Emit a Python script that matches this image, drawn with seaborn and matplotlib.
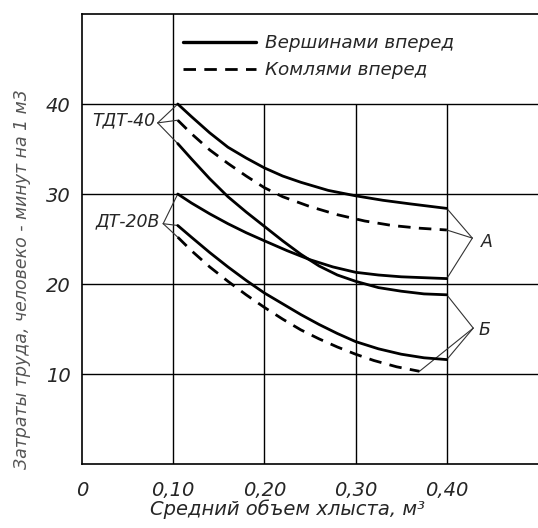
import numpy as np
import pandas as pd
import matplotlib
matplotlib.use('Agg')
import matplotlib.pyplot as plt
from matplotlib.lines import Line2D
import seaborn as sns

# ДАННЫЕ
# ТДТ-40
x1 = [0.105, 0.12, 0.14, 0.16, 0.18, 0.20, 0.22, 0.24, 0.27, 0.30, 0.33, 0.36, 0.40]
y1 = [40.0, 38.6, 36.8, 35.2, 34.0, 32.9, 32.0, 31.3, 30.4, 29.8, 29.3, 28.9, 28.4]   # вершинами, А
x2 = [0.105, 0.12, 0.14, 0.16, 0.18, 0.20, 0.22, 0.25, 0.28, 0.31, 0.34, 0.37, 0.40]
y2 = [38.2, 36.7, 34.9, 33.4, 32.0, 30.7, 29.7, 28.6, 27.7, 27.0, 26.5, 26.2, 26.0]   # комлями, А
x3 = [0.105, 0.12, 0.14, 0.16, 0.18, 0.20, 0.22, 0.24, 0.26, 0.28, 0.30, 0.325, 0.35, 0.375, 0.40]
y3 = [35.6, 33.9, 31.7, 29.7, 28.0, 26.4, 24.8, 23.3, 22.0, 21.0, 20.3, 19.6, 19.2, 18.9, 18.8]  # вершинами, Б
# ДТ-20В
x4 = [0.105, 0.12, 0.14, 0.16, 0.18, 0.20, 0.225, 0.25, 0.275, 0.30, 0.325, 0.35, 0.375, 0.40]
y4 = [30.0, 29.0, 27.8, 26.7, 25.7, 24.8, 23.7, 22.7, 21.9, 21.3, 21.0, 20.8, 20.7, 20.6]   # вершинами, А
x5 = [0.105, 0.12, 0.14, 0.16, 0.18, 0.20, 0.22, 0.24, 0.26, 0.28, 0.30, 0.325, 0.35, 0.375, 0.40]
y5 = [26.5, 25.2, 23.5, 21.9, 20.4, 19.0, 17.8, 16.6, 15.5, 14.5, 13.6, 12.8, 12.2, 11.8, 11.6]   # вершинами, Б
x6 = [0.105, 0.12, 0.14, 0.16, 0.18, 0.20, 0.22, 0.24, 0.26, 0.28, 0.30, 0.32, 0.345, 0.37]
y6 = [25.2, 23.7, 21.9, 20.3, 18.8, 17.4, 16.1, 14.9, 13.9, 13.0, 12.2, 11.5, 10.8, 10.3]   # комлями, Б

x_ticks = [0, 0.10, 0.20, 0.30, 0.40]
x_labels = ['0', '0,10', '0,20', '0,30', '0,40']
y_ticks = [10, 20, 30, 40]
y_labels = ['10', '20', '30', '40']

sns.set_style('white')
plt.rcParams['font.family'] = ['DejaVu Sans']
plt.rcParams['font.style'] = 'italic'

fig = plt.figure(figsize=(5.38, 5.28), dpi=100)
ax = fig.add_axes([82/538, 64/528, 1 - 82/538, 450/528])
ax.set_xlim(0, 0.5)
ax.set_ylim(0, 50)

# СЕТКА
for yt in y_ticks:
    ax.axhline(yt, color='black', lw=1.0, zorder=1)
ax.axvline(x_ticks[1], color='black', lw=1.0, zorder=1)
ax.vlines(x_ticks[2:], 0, y_ticks[-1], color='black', lw=1.0, zorder=1)

# КРИВЫЕ
curvas = [(x1, y1, '-'), (x2, y2, '--'), (x3, y3, '-'),
          (x4, y4, '-'), (x5, y5, '-'), (x6, y6, '--')]
for xs, ys, ls in curvas:
    sns.lineplot(x=xs, y=ys, ax=ax, color='black', lw=2.0, linestyle=ls,
                 zorder=3, estimator=None, sort=False)
for line in ax.lines:
    if line.get_linestyle() == '--':
        line.set_dashes((4.5, 3))

# ВЫНОСКИ
def vynoska(text, tx, ty, apex, targets, ha):
    for (px, py) in targets:
        ax.plot([apex[0], px], [apex[1], py], color='#333333', lw=0.8, zorder=2)
    ax.text(tx, ty, text, fontsize=12.5, ha=ha, va='center')

vynoska('ТДТ-40', 0.08, 38.2, (0.083, 37.9),
        [(x1[0], y1[0]), (x2[0], y2[0]), (x3[0], y3[0])], 'right')
vynoska('ДТ-20В', 0.086, 27.0, (0.089, 26.7),
        [(x4[0], y4[0]), (x5[0], y5[0]), (x6[0], y6[0])], 'right')
vynoska('А', 0.437, 24.7, (0.428, 25.1),
        [(x1[-1], y1[-1]), (x2[-1], y2[-1]), (x4[-1], y4[-1])], 'left')
vynoska('Б', 0.435, 14.9, (0.429, 15.1),
        [(x3[-1], y3[-1]), (x5[-1], y5[-1]), (x6[-1], y6[-1])], 'left')

# ЛЕГЕНДА
handles = [Line2D([], [], color='black', lw=2.4, linestyle='-'),
           Line2D([], [], color='black', lw=2.0, dashes=(4.5, 3))]
ax.legend(handles, ['Вершинами вперед', 'Комлями вперед'],
          loc='upper left', bbox_to_anchor=(0.205, 0.972), frameon=False,
          fontsize=13.2, handlelength=4.0, handletextpad=0.5, labelspacing=0.5,
          borderaxespad=0)

# ОСИ
ax.set_xticks(x_ticks)
ax.set_xticklabels(x_labels)
ax.set_yticks(y_ticks)
ax.set_yticklabels(y_labels)
ax.tick_params(axis='both', length=0, labelsize=14)
ax.tick_params(axis='x', pad=12)
ax.tick_params(axis='y', pad=8)
ax.set_xlabel('Средний объем хлыста, м³', fontsize=14, x=0.45, labelpad=0)
ax.set_ylabel('Затраты труда, человеко - минут на 1 м3', fontsize=12.5,
              color='#555555', y=0.41, labelpad=11)

for side in ['left', 'bottom', 'top']:
    ax.spines[side].set_color('black')
    ax.spines[side].set_linewidth(1.2)
ax.spines['right'].set_visible(False)

fig.savefig('out.png', dpi=100)
